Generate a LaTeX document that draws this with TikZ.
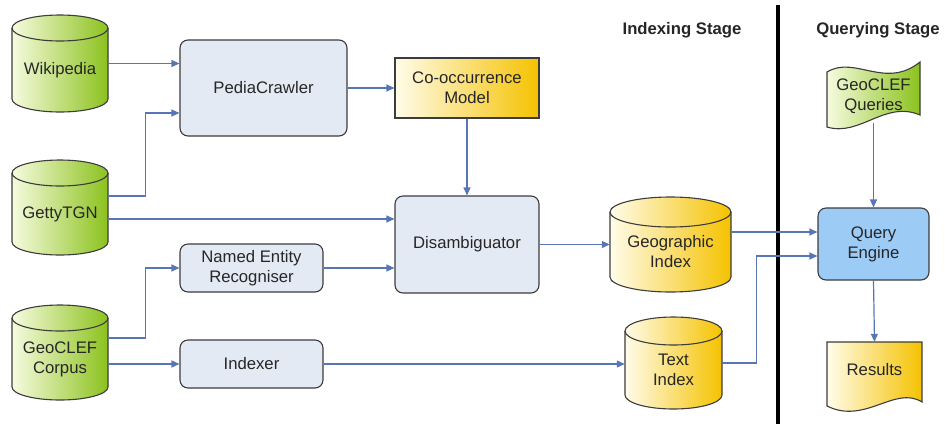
\documentclass[tikz,border=0pt]{standalone}
\usepackage{fontspec}
\setmainfont{Liberation Sans}
\usetikzlibrary{arrows.meta,calc}
\definecolor{grnL}{HTML}{F6FBDE}
\definecolor{grnR}{HTML}{8CC21E}
\definecolor{yelL}{HTML}{FFFCEA}
\definecolor{yelR}{HTML}{F5C200}
\definecolor{boxc}{HTML}{E4EAF4}
\definecolor{qec}{HTML}{9CCBF5}
\definecolor{bordc}{HTML}{3C3C3C}
\definecolor{arrc}{HTML}{5776B5}
\definecolor{txtc}{HTML}{262626}
\newcommand\dbcyl[8]{%
  \pgfmathsetmacro\cx{(#2+#4)/2}%
  \pgfmathsetmacro\rx{(#4-#2)/2}%
  \pgfmathsetmacro\ya{#3+#6}%
  \pgfmathsetmacro\yb{#5-#6}%
  \pgfmathsetmacro\ty{(\ya+#5)/2}%
  \path[#7, draw=bordc, line width=1.1pt] (#2,\ya) -- (#2,\yb)
     arc[start angle=180, end angle=360, x radius=\rx*1pt, y radius=#6*1pt]
     -- (#4,\ya)
     arc[start angle=0, end angle=180, x radius=\rx*1pt, y radius=#6*1pt] -- cycle;
  \draw[bordc, line width=1.1pt] (#2,\ya)
     arc[start angle=180, end angle=360, x radius=\rx*1pt, y radius=#6*1pt];
  \node[inner sep=0pt, minimum width=#4-#2, minimum height=#5-#3] (#1) at (\cx,{(#3+#5)/2}) {};
  \node[align=center] at (\cx,\ty) {#8};
}
\begin{document}
\begin{tikzpicture}[x=1pt,y=-1pt,
  every node/.style={font=\fontsize{16.7}{20}\selectfont, text=txtc},
  procbox/.style={draw=bordc, line width=1.1pt, rounded corners=8pt, fill=boxc, inner sep=0pt, align=center},
  grn/.style={left color=grnL, right color=grnR},
  yel/.style={left color=yelL, right color=yelR},
  arr/.style={draw=arrc, line width=1.2pt, -{Triangle[length=8pt,width=7pt]}},
  stage/.style={font=\fontsize{16.7}{20}\selectfont\bfseries}]
\useasboundingbox (0,0) rectangle (945,424);

% stage separator and titles
\coordinate (septop) at (778,5);
\coordinate (sepbot) at (778,424);
\draw[line width=4pt, black] (septop) -- (sepbot);
\node[stage] (ist) at (682,30) {Indexing Stage};
\node[stage] (qst) at (878,30) {Querying Stage};

% data stores
\dbcyl{wiki}{12}{15}{108}{112}{13}{grn}{Wikipedia}
\dbcyl{getty}{12}{160}{108}{255}{13}{grn}{GettyTGN}
\dbcyl{corpus}{12}{305}{108}{400}{13}{grn}{GeoCLEF\\Corpus}
\dbcyl{geo}{610}{197}{731}{292}{15}{yel}{Geographic\\Index}
\dbcyl{tix}{625}{317}{722}{409}{14}{yel}{Text\\Index}

% processes
\node[procbox, minimum width=167, minimum height=96] (pc) at (263.5,88) {PediaCrawler};
\node[draw=bordc, line width=1.1pt, yel, inner sep=0pt, align=center,
      minimum width=144, minimum height=60] (co) at (467,88) {Co-occurrence\\Model};
\node[procbox, minimum width=144, minimum height=97] (dis) at (467,244.5) {Disambiguator};
\node[procbox, minimum width=143, minimum height=48] (ner) at (251.5,268) {Named Entity\\Recogniser};
\node[procbox, minimum width=143, minimum height=48] (idx) at (251.5,364) {Indexer};
\node[procbox, fill=qec, minimum width=111, minimum height=72] (qe) at (873.5,244) {Query\\Engine};

% tape: GeoCLEF Queries
\path[grn, draw=bordc, line width=1.1pt] (827,72) .. controls (855,55) and (885,90) .. (920,62)
   -- (920,115) .. controls (885,100) and (860,137) .. (827,127) -- cycle;
\node[align=center, inner sep=0pt, minimum width=93, minimum height=54] (gq) at (873.5,96) {GeoCLEF\\Queries};

% document: Results
\path[yel, draw=bordc, line width=1.1pt] (827,342) -- (922,342) -- (922,402)
   .. controls (895,385) and (865,425) .. (827,406) -- cycle;
\node[inner sep=0pt, minimum width=95, minimum height=56] (res) at (874.5,370) {Results};

% connectors
\draw[arr] (wiki.east) -- (wiki.east -| pc.west);
\draw[arr] ([yshift=11.5pt]getty.east) -- ++(37,0) |- ([yshift=-25pt]pc.west);
\draw[arr] ([yshift=-11.5pt]getty.east) -- ([yshift=-11.5pt]getty.east -| dis.west);
\draw[arr] (pc.east) -- (co.west);
\draw[arr] (co.south) -- (dis.north);
\draw[arr] ([yshift=14.5pt]corpus.east) -- ++(37,0) |- (ner.west);
\draw[arr] (idx.west -| corpus.east) -- (idx.west);
\draw[arr] (ner.east) -- (ner.east -| dis.west);
\draw[arr] (idx.east) -- (idx.east -| tix.west);
\draw[arr] (dis.east) -- (dis.east -| geo.west);
\draw[arr] ([yshift=12.5pt]geo.east) -- ([yshift=12pt]qe.west);
\draw[arr] (tix.east) -- ++(34,0) |- ([yshift=-12pt]qe.west);
\draw[arr] (gq.south) -- (qe.north);
\draw[arr] (qe.south) -- (res.north);
\end{tikzpicture}
\end{document}
